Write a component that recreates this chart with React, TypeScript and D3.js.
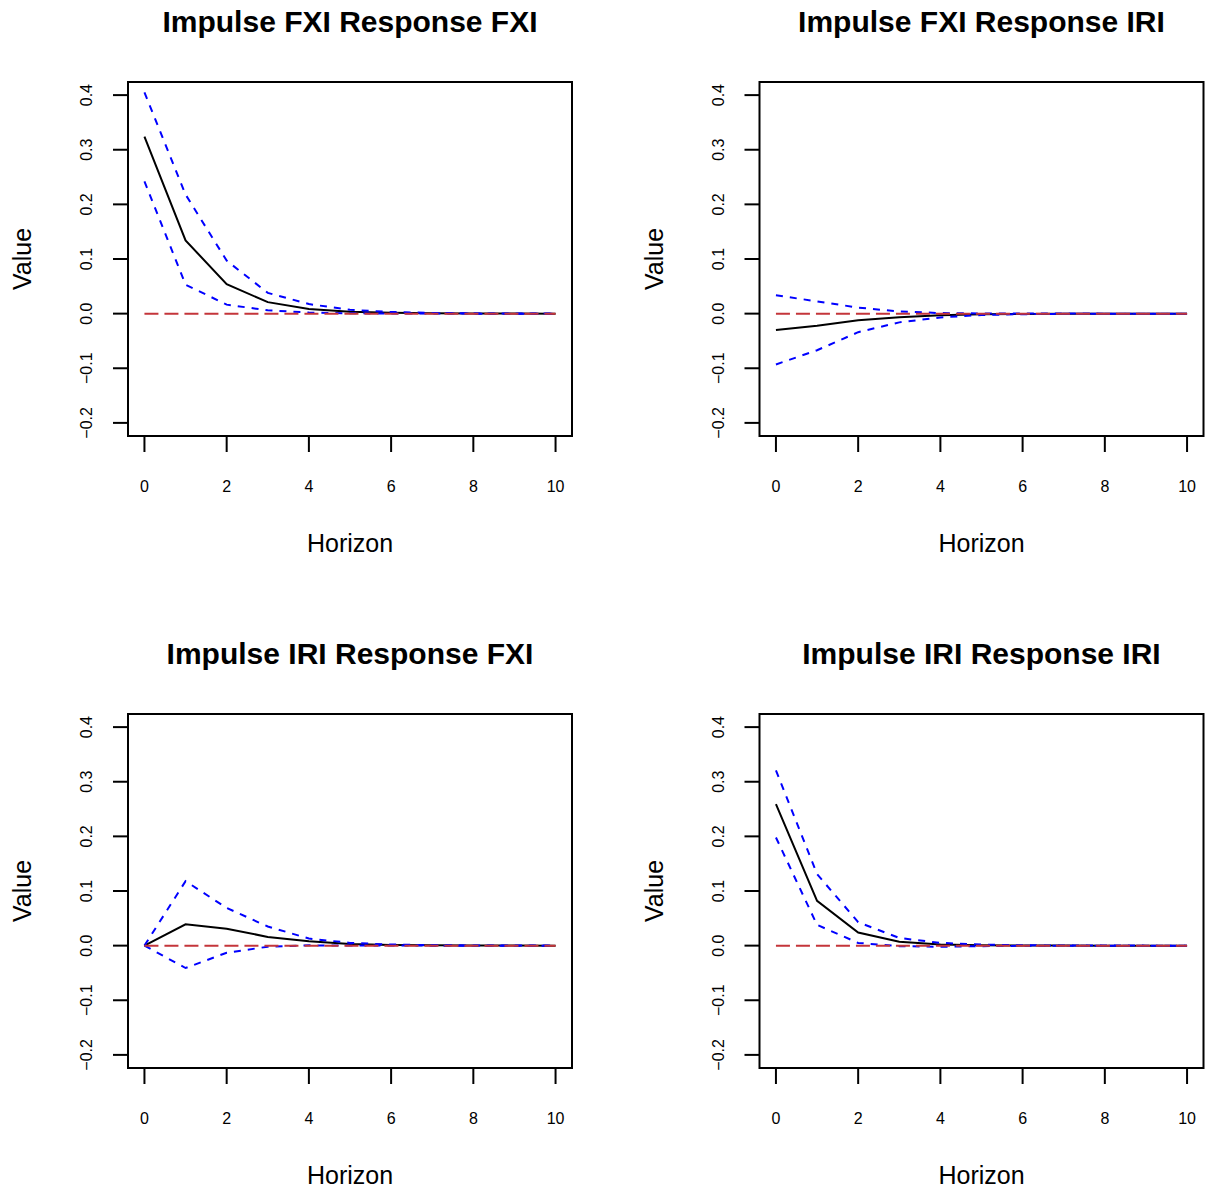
import React from "react";
import * as d3 from "d3";

const horizon = [0, 1, 2, 3, 4, 5, 6, 7, 8, 9, 10];
const xTicks = [0, 2, 4, 6, 8, 10];
const yTicks = [-0.2, -0.1, 0.0, 0.1, 0.2, 0.3, 0.4];
const yTickLabels = ["\u22120.2", "\u22120.1", "0.0", "0.1", "0.2", "0.3", "0.4"];

const fxiFxi = [0.324, 0.134, 0.054, 0.021, 0.0086, 0.0035, 0.0014, 0.0006, 0.0002, 0.0001, 0.0];
const fxiFxiUpper = [0.405, 0.218, 0.097, 0.038, 0.0175, 0.007, 0.003, 0.0012, 0.0005, 0.0002, 0.0001];
const fxiFxiLower = [0.242, 0.053, 0.0165, 0.006, 0.002, 0.0006, 0.0002, 0.0001, 0, 0, 0];

const fxiIri = [-0.03, -0.022, -0.012, -0.0065, -0.003, -0.0012, -0.0005, -0.0002, -0.0001, 0, 0];
const fxiIriUpper = [0.0335, 0.0225, 0.011, 0.004, 0.001, 0.0004, 0.0002, 0.0001, 0, 0, 0];
const fxiIriLower = [-0.093, -0.067, -0.034, -0.016, -0.007, -0.0025, -0.001, -0.0004, -0.0002, -0.0001, 0];

const iriFxi = [0, 0.039, 0.031, 0.016, 0.008, 0.003, 0.0012, 0.0005, 0.0002, 0.0001, 0];
const iriFxiUpper = [0, 0.118, 0.069, 0.035, 0.013, 0.005, 0.002, 0.0008, 0.0003, 0.0001, 0];
const iriFxiLower = [0, -0.041, -0.013, -0.002, 0.0005, 0.0003, 0.0001, 0, 0, 0, 0];

const iriIri = [0.259, 0.082, 0.024, 0.007, 0.002, 0.0006, 0.0002, 0.0001, 0, 0, 0];
const iriIriUpper = [0.321, 0.131, 0.043, 0.014, 0.005, 0.002, 0.0007, 0.0002, 0.0001, 0, 0];
const iriIriLower = [0.198, 0.038, 0.005, -0.001, -0.002, -0.001, -0.0003, -0.0001, 0, 0, 0];

const panelTitles = [
  "Impulse FXI Response FXI",
  "Impulse FXI Response IRI",
  "Impulse IRI Response FXI",
  "Impulse IRI Response IRI",
];

const panels = [
  { title: panelTitles[0], mid: fxiFxi, upper: fxiFxiUpper, lower: fxiFxiLower, col: 0, row: 0 },
  { title: panelTitles[1], mid: fxiIri, upper: fxiIriUpper, lower: fxiIriLower, col: 1, row: 0 },
  { title: panelTitles[2], mid: iriFxi, upper: iriFxiUpper, lower: iriFxiLower, col: 0, row: 1 },
  { title: panelTitles[3], mid: iriIri, upper: iriIriUpper, lower: iriIriLower, col: 1, row: 1 },
];

const FONT = "'Liberation Sans', Arial, Helvetica, sans-serif";

function Panel({ p }: { p: typeof panels[number] }) {
  const ox = p.col * 631.5;
  const oy = p.row * 632;
  const left = 128, right = 572, top = 82, bottom = 436;
  const xs = d3.scaleLinear().domain([-0.4, 10.4]).range([left, right]);
  const ys = d3.scaleLinear().domain([-0.224, 0.424]).range([bottom, top]);
  const line = d3
    .line<number>()
    .x((_, i) => xs(horizon[i]))
    .y((d) => ys(d));
  const zero = horizon.map(() => 0);
  const cx = (left + right) / 2;
  const cy = (top + bottom) / 2;
  return (
    <g transform={`translate(${ox},${oy})`}>
      <text x={cx} y={32} textAnchor="middle" fontFamily={FONT} fontWeight="bold" fontSize={30} fill="#000">
        {p.title}
      </text>
      <rect x={left} y={top} width={right - left} height={bottom - top} fill="none" stroke="#000" strokeWidth={2} />
      {xTicks.map((t) => (
        <g key={"x" + t}>
          <line x1={xs(t)} x2={xs(t)} y1={bottom} y2={bottom + 16} stroke="#000" strokeWidth={2} />
          <text x={xs(t)} y={492} textAnchor="middle" fontFamily={FONT} fontSize={16} fill="#000">
            {t}
          </text>
        </g>
      ))}
      {yTicks.map((t, i) => (
        <g key={"y" + t}>
          <line x1={left - 15} x2={left} y1={ys(t)} y2={ys(t)} stroke="#000" strokeWidth={2} />
          <text
            transform={`translate(92,${ys(t)}) rotate(-90)`}
            textAnchor="middle"
            fontFamily={FONT}
            fontSize={16}
            fill="#000"
          >
            {yTickLabels[i]}
          </text>
        </g>
      ))}
      <text x={cx} y={552} textAnchor="middle" fontFamily={FONT} fontSize={25} fill="#000">
        Horizon
      </text>
      <text
        transform={`translate(31,${cy}) rotate(-90)`}
        textAnchor="middle"
        fontFamily={FONT}
        fontSize={25}
        fill="#000"
      >
        Value
      </text>
      <path d={line(p.mid) || ""} fill="none" stroke="#000" strokeWidth={2} />
      <path d={line(p.upper) || ""} fill="none" stroke="#0000FF" strokeWidth={2} strokeDasharray="7,7" />
      <path d={line(p.lower) || ""} fill="none" stroke="#0000FF" strokeWidth={2} strokeDasharray="7,7" />
      <path d={line(zero) || ""} fill="none" stroke="#C4353A" strokeWidth={2} strokeDasharray="14,6" />
    </g>
  );
}

export default function App() {
  return (
    <svg
      width={1206}
      height={1190}
      style={{ position: "absolute", left: 0, top: 0, background: "#fff" }}
    >
      <rect x={0} y={0} width={1206} height={1190} fill="#fff" />
      {panels.map((p) => (
        <Panel key={p.title} p={p} />
      ))}
    </svg>
  );
}
